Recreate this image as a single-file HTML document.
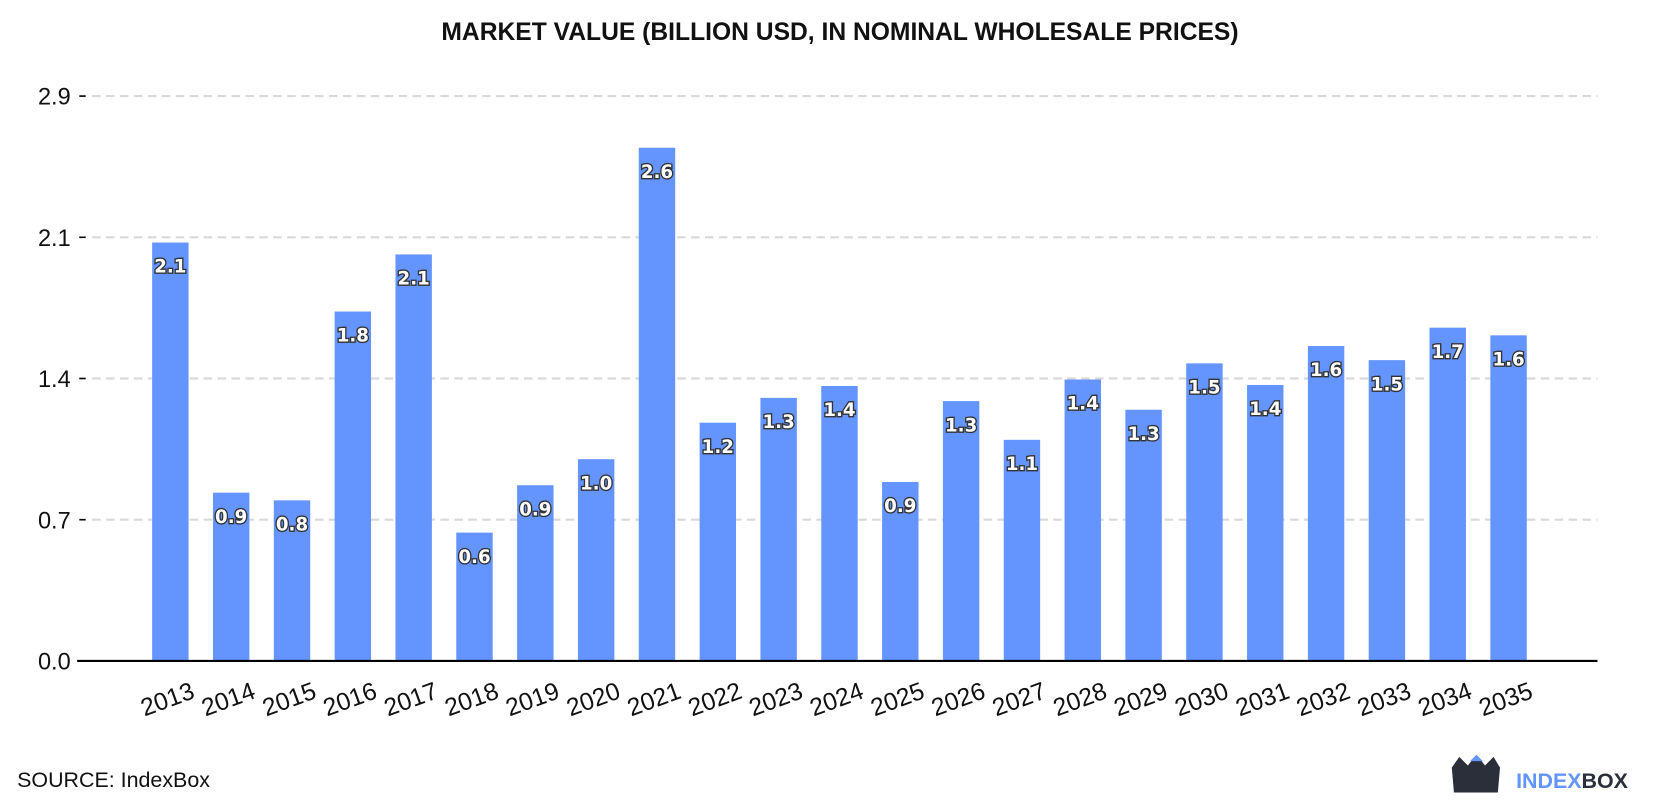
<!DOCTYPE html>
<html><head><meta charset="utf-8"><style>
html,body{margin:0;padding:0;background:#fff;}
svg{display:block;font-family:"Liberation Sans",sans-serif;}
</style></head><body>
<svg id="chart" width="1680" height="800" viewBox="0 0 1568 742" preserveAspectRatio="none" xmlns="http://www.w3.org/2000/svg">
<text x="784" y="37" text-anchor="middle" font-size="23" font-weight="bold" fill="#111">MARKET VALUE (BILLION USD, IN NOMINAL WHOLESALE PRICES)</text>
<g id="grid"></g><g id="bars"></g><g id="xlabels"></g>
<line x1="72" x2="1491" y1="613" y2="613" stroke="#000" stroke-width="2"/>
<text x="16" y="730" font-size="20" fill="#111">SOURCE: IndexBox</text>
<g>
<path d="M1355 712 L1362 702 L1370 710 L1378 700 L1386 710 L1394 702 L1400 712 L1398 735 L1357 735 Z" fill="#2b2f3a"/>
<path d="M1372 706 L1378 700 L1384 706 Z" fill="#6495ff"/>
<text x="1415" y="731" font-size="20" font-weight="bold" fill="#6495ff">INDEX<tspan fill="#2b2f3a">BOX</tspan></text>
</g>
</svg>
<script>
const years=["2013","2014","2015","2016","2017","2018","2019","2020","2021","2022","2023","2024","2025","2026","2027","2028","2029","2030","2031","2032","2033","2034","2035"];
const values=[2.074,0.834,0.796,1.732,2.015,0.636,0.871,1.0,2.544,1.181,1.304,1.363,0.887,1.288,1.096,1.395,1.245,1.475,1.368,1.561,1.491,1.652,1.614];
const valueLabels=["2.1","0.9","0.8","1.8","2.1","0.6","0.9","1.0","2.6","1.2","1.3","1.4","0.9","1.3","1.1","1.4","1.3","1.5","1.4","1.6","1.5","1.7","1.6"];
const yTicks=[0,0.7,1.4,2.1,2.8];
const yTickLabels=["0.0","0.7","1.4","2.1","2.9"];
const NS="http://www.w3.org/2000/svg";
const y0=613,pxPerUnit=187.1;
function yScale(v){return y0-v*pxPerUnit;}
function xScale(i){return 159+i*(1408-159)/(years.length-1);}
const bw=34;
function mk(tag,attrs,parent){const e=document.createElementNS(NS,tag);for(const k in attrs)e.setAttribute(k,attrs[k]);parent.appendChild(e);return e;}
const grid=document.getElementById('grid'),bars=document.getElementById('bars'),xl=document.getElementById('xlabels');
yTicks.forEach((t,i)=>{const y=yScale(t);
 if(t>0){const g=mk('line',{x1:86,x2:1491,y1:y,y2:y,stroke:'#d9d9d9','stroke-width':2,'stroke-dasharray':'8,5'},grid);
 
 }
 const tk=mk('line',{x1:74,x2:80,y1:y,y2:y,stroke:'#000','stroke-width':1.5},grid);
 
 
 const tx=mk('text',{x:66,y:y+8,'text-anchor':'end','font-size':22,fill:'#111'},grid);tx.textContent=yTickLabels[i];
 
 
});
years.forEach((yr,i)=>{const cx=xScale(i),top=yScale(values[i]);
 const r=mk('rect',{x:cx-bw/2,y:top,width:bw,height:y0-top,fill:'#6495ff'},bars);
 
 
 const l=mk('text',{x:cx,y:top+28,'text-anchor':'middle','font-size':17,'font-weight':'bold',fill:'#fff',stroke:'#333','stroke-width':2.5,'paint-order':'stroke','font-family':'DejaVu Sans, sans-serif'},bars);
 l.textContent=valueLabels[i];
 
 
 const t=mk('text',{x:cx+24,y:647,'text-anchor':'end','font-size':23,fill:'#111',transform:`rotate(-20 ${cx+24} 647)`},xl);
 t.textContent=yr;
 
 
});
</script>
</body></html>
